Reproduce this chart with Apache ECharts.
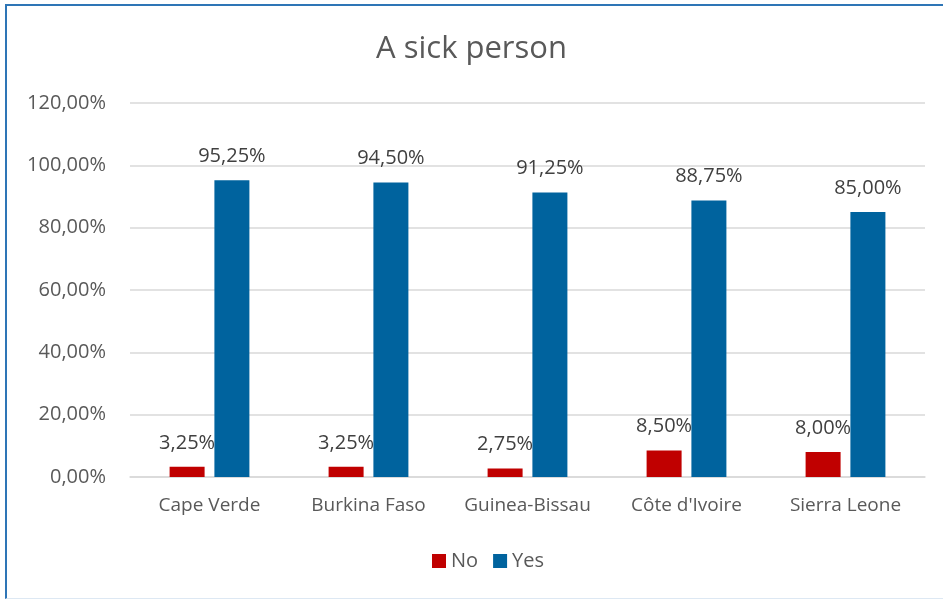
<!DOCTYPE html>
<html><head><meta charset="utf-8">
<script src="https://cdn.jsdelivr.net/npm/echarts@6/dist/echarts.min.js"></script>
<style>html,body{margin:0;padding:0;background:#fff}#c{width:943px;height:599px;}
#frame{position:absolute;left:5px;top:4px;width:950px;height:592px;border-left:2px solid #2E75B6;border-top:2px solid #2E75B6;border-bottom:1px solid #DDE8F3;pointer-events:none}</style>
</head><body><div id="c"></div><div id="frame"></div>
<script>
const categories = ["Cape Verde","Burkina Faso","Guinea-Bissau","Côte d'Ivoire","Sierra Leone"];
const noValues = [3.25, 3.25, 2.75, 8.50, 8.00];
const yesValues = [95.25, 94.50, 91.25, 88.75, 85.00];
const seriesNames = ["No","Yes"];
const title = "A sick person";
const fmt = v => v.toFixed(2).replace('.', ',') + '%';
const font = "'Open Sans', 'Noto Sans', sans-serif";
const chart = echarts.init(document.getElementById('c'));
chart.setOption({
  animation:false,
  textStyle:{fontFamily:font},
  title:{text:title,left:'center',top:29,textStyle:{fontFamily:font,fontSize:31,fontWeight:'normal',color:'#595959'}},
  legend:{bottom:23,left:427,itemWidth:14,itemHeight:14,itemGap:15,icon:'rect',
    textStyle:{fontFamily:font,fontSize:20,color:'#595959'}},
  grid:{left:130,right:18,top:103,bottom:122},
  xAxis:{type:'category',data:categories,axisTick:{show:false},
    axisLine:{lineStyle:{color:'#D9D9D9',width:1.5}},
    axisLabel:{interval:0,fontFamily:font,fontSize:19,color:'#595959',margin:19}},
  yAxis:{type:'value',min:0,max:120,interval:20,
    axisLabel:{fontFamily:font,fontSize:20,color:'#595959',margin:24,formatter:v=>fmt(v)},
    splitLine:{lineStyle:{color:'#D9D9D9',width:1.5}},axisLine:{show:false},axisTick:{show:false}},
  series:[
    {name:seriesNames[0],type:'bar',data:noValues,barWidth:35,barGap:'28%',
      itemStyle:{color:'#C00000'},
      label:{show:true,position:'top',distance:14,fontFamily:font,fontSize:20,color:'#404040',formatter:p=>fmt(p.value)}},
    {name:seriesNames[1],type:'bar',data:yesValues,barWidth:35,
      itemStyle:{color:'#00639E'},
      label:{show:true,position:'top',distance:14,fontFamily:font,fontSize:20,color:'#404040',formatter:p=>fmt(p.value)}}
  ]
});
</script></body></html>
